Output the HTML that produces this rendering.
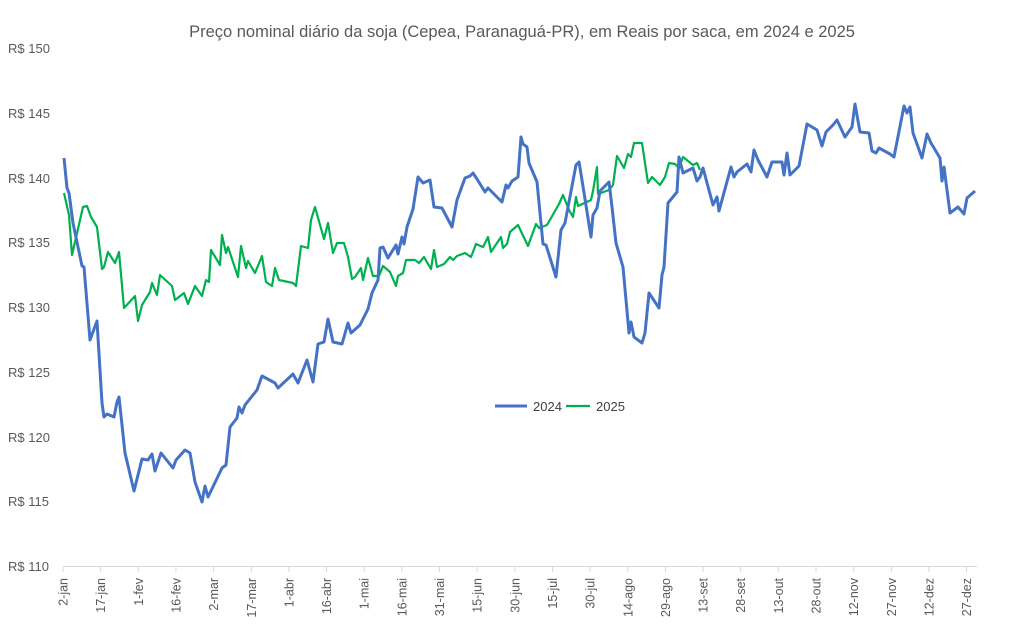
<!DOCTYPE html>
<html><head><meta charset="utf-8"><style>
body{margin:0;background:#fff;}
svg{display:block;font-family:"Liberation Sans",sans-serif;}
</style></head><body>
<svg width="1011" height="629" viewBox="0 0 1011 629" xmlns="http://www.w3.org/2000/svg">
<rect width="1011" height="629" fill="#fff"/>
<text x="522" y="37" text-anchor="middle" font-size="16.5" fill="#595959">Preço nominal diário da soja (Cepea, Paranaguá-PR), em Reais por saca, em 2024 e 2025</text>
<g font-size="13" fill="#595959">
<text x="8" y="53">R$ 150</text>
<text x="8" y="118">R$ 145</text>
<text x="8" y="183">R$ 140</text>
<text x="8" y="247">R$ 135</text>
<text x="8" y="312">R$ 130</text>
<text x="8" y="377">R$ 125</text>
<text x="8" y="442">R$ 120</text>
<text x="8" y="506">R$ 115</text>
<text x="8" y="571">R$ 110</text>
</g>
<line x1="63" y1="566.5" x2="977" y2="566.5" stroke="#d9d9d9" stroke-width="1"/>
<g stroke="#d9d9d9" stroke-width="1" id="ticks"></g>
<g font-size="12.5" fill="#595959" id="xl"></g>
<polyline fill="none" stroke="#00b050" stroke-width="2.2" stroke-linejoin="round" points="64,193 69,215 72,255 83,207 87,206 91,217 97,227 102,269 104,267 108,252 115,263 119,252 124,308 135,296 138,321 142,305 150,292 152,283 157,295 160,275 172,286 175,300 184,293 188,304 195,286 202,296 206,280 209,282 211,250 220,265 222,235 226,253 228,247 238,277 241,246 246,268 248,261 255,273 262,256 266,282 272,286 275,268 279,280 293,283 296,286 301,246 308,248 311,220 315,207 324,239 328,223 333,253 337,243 344,243 348,257 352,279 355,277 361,268 363,280 368,258 373,276 379,276 383,266 390,272 396,286 398,276 403,273 406,260 415,260 419,263 424,257 431,269 434,250 437,267 444,264 450,257 453,260 457,256 465,253 471,257 476,244 483,247 488,237 491,252 501,237 503,248 507,244 510,232 518,225 528,246 536,224 539,228 547,225 559,204 563,195 569,210 573,217 576,197 578,206 591,200 593,191 597,167 598,194 609,190 613,185 617,156 624,168 628,154 631,157 634,143 642,143 648,183 652,177 660,185 665,177 669,163 675,164 679,168 683,157 693,165 697,163 700,170"/>
<polyline fill="none" stroke="#4472c4" stroke-width="3" stroke-linejoin="round" points="64,158 67,188 69,193 73,223 82,266 84,267 90,340 97,321 102,403 104,417 107,414 114,417 117,402 119,397 125,453 134,491 142,459 148,460 152,454 155,471 161,453 173,468 176,460 185,450 190,453 195,482 202,502 205,486 208,497 222,468 226,465 230,427 237,418 239,407 242,413 245,405 257,390 262,376 275,383 278,388 293,374 298,383 307,360 313,382 318,344 324,342 328,319 333,342 342,344 348,323 351,333 360,325 368,309 372,293 378,280 380,248 383,247 388,258 396,245 398,254 402,237 404,244 407,227 413,209 418,177 423,183 430,180 434,207 442,208 452,227 457,200 465,178 470,176 473,173 477,179 485,192 488,188 502,202 506,185 508,188 512,181 518,177 521,137 523,144 527,147 529,163 537,182 543,244 546,245 556,277 561,230 565,223 576,165 579,162 582,180 591,237 593,215 597,208 600,191 609,182 612,207 616,243 623,267 629,333 631,322 634,337 642,343 645,333 649,293 659,308 662,275 664,267 668,203 677,192 679,157 683,173 693,168 697,181 700,177 703,168 713,205 717,197 719,211 731,167 734,177 737,172 747,164 751,172 754,150 758,160 767,177 772,162 782,162 784,175 787,153 790,175 799,166 807,124 817,130 822,146 826,132 833,125 837,120 845,137 852,127 855,104 860,132 869,133 872,151 876,153 879,148 890,154 894,157 904,106 907,113 910,107 913,133 922,158 927,134 931,143 940,158 942,181 944,167 950,213 958,207 964,214 967,198 975,191"/>
<line x1="495" y1="406" x2="527" y2="406" stroke="#4472c4" stroke-width="3"/>
<text x="533" y="411" font-size="13" fill="#404040">2024</text>
<line x1="566" y1="406" x2="590" y2="406" stroke="#00b050" stroke-width="2.2"/>
<text x="596" y="411" font-size="13" fill="#404040">2025</text>
<script>
var L=["2-jan","17-jan","1-fev","16-fev","2-mar","17-mar","1-abr","16-abr","1-mai","16-mai","31-mai","15-jun","30-jun","15-jul","30-jul","14-ago","29-ago","13-set","28-set","13-out","28-out","12-nov","27-nov","12-dez","27-dez"];
var t=document.getElementById("ticks"),x=document.getElementById("xl"),ns="http://www.w3.org/2000/svg";
L.forEach(function(s,i){var px=63+i*37.65;
var l=document.createElementNS(ns,"line");l.setAttribute("x1",px);l.setAttribute("x2",px);l.setAttribute("y1",567);l.setAttribute("y2",572);t.appendChild(l);
var e=document.createElementNS(ns,"text");e.setAttribute("transform","translate("+(px+4.5)+",578) rotate(-90)");e.setAttribute("text-anchor","end");e.textContent=s;x.appendChild(e);});
</script>
</svg>
</body></html>
